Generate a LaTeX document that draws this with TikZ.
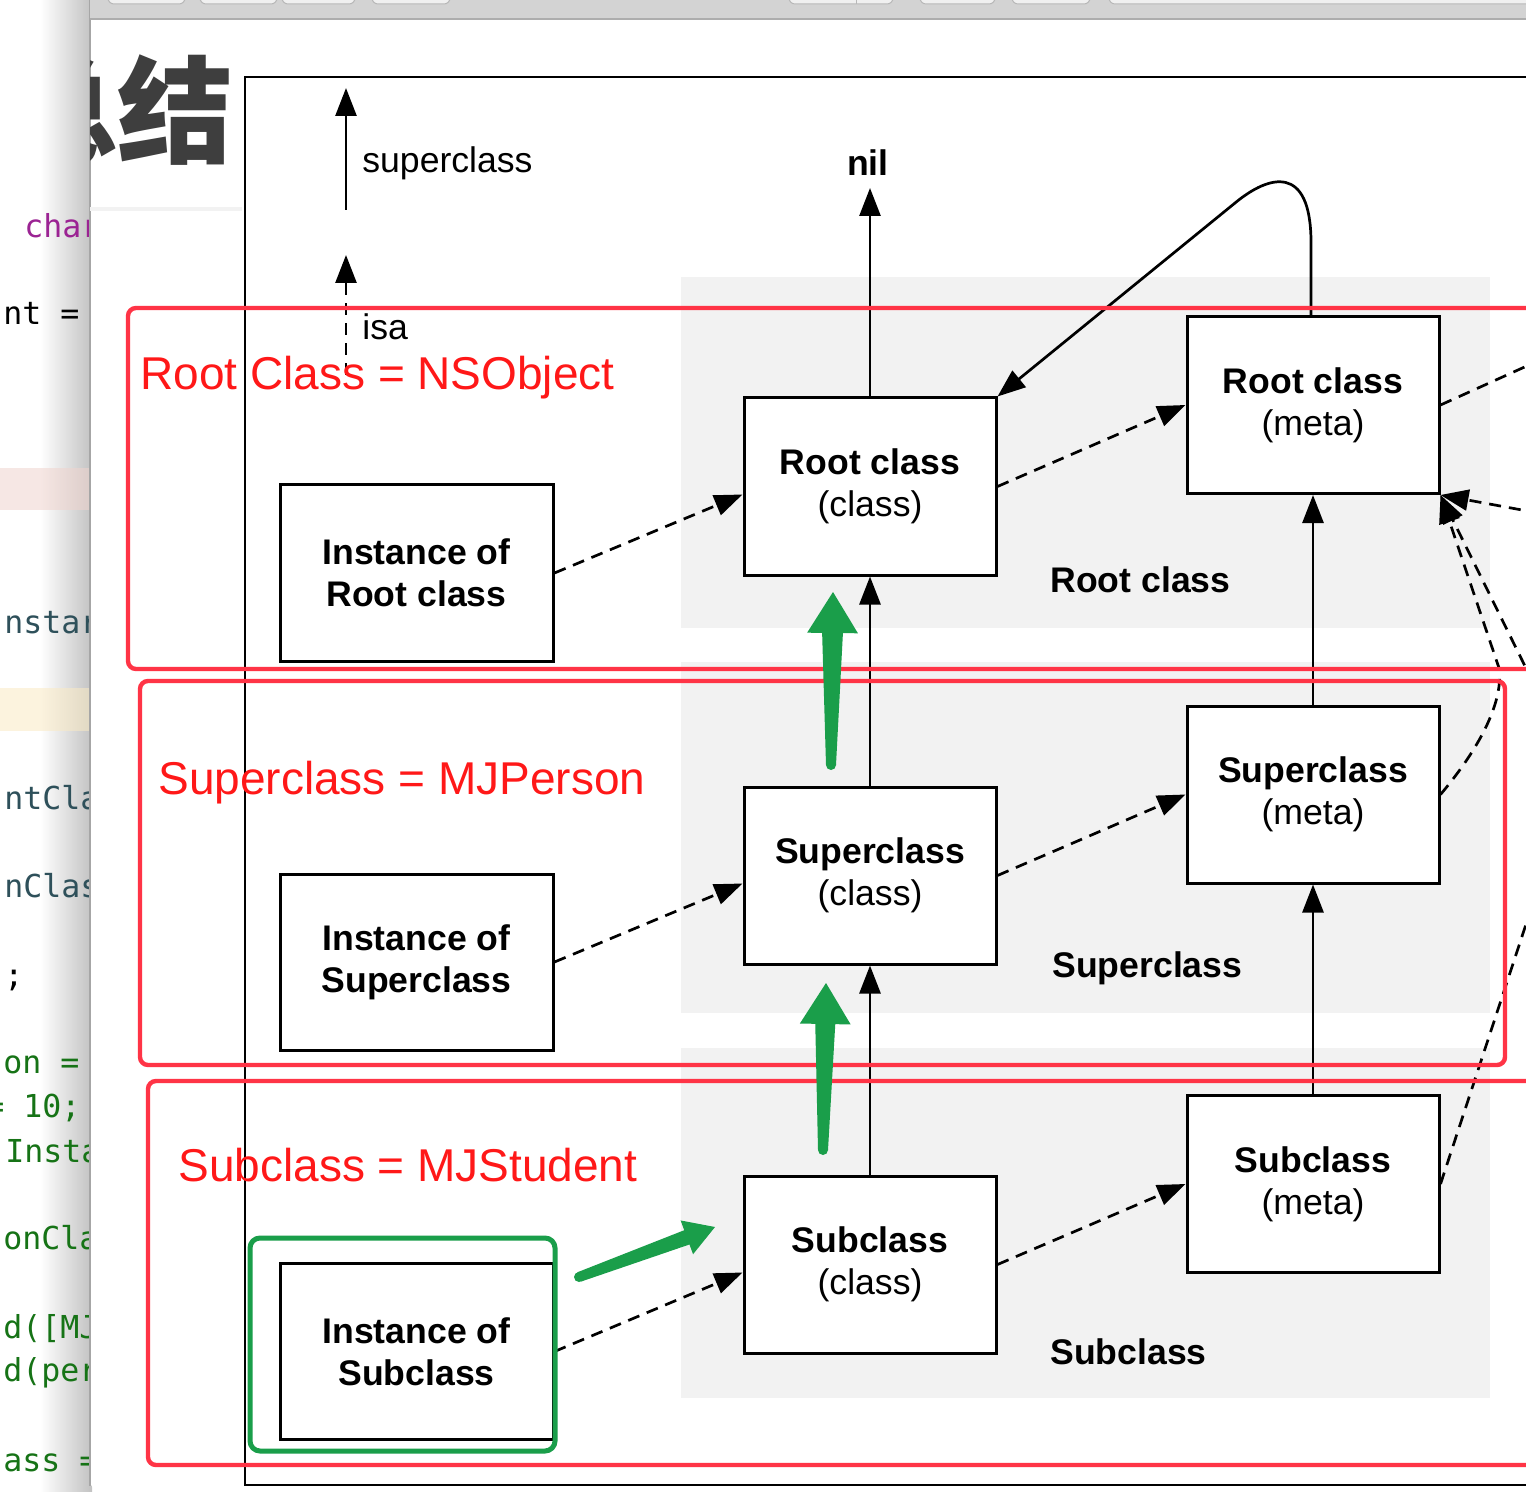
\documentclass[tikz,border=0pt]{standalone}
\usepackage{fontspec}
\setmainfont{Liberation Sans}
\setsansfont{Liberation Sans}
\setmonofont{DejaVu Sans Mono}
\newfontfamily\cjkfont{Noto Sans CJK SC}
\usetikzlibrary{arrows.meta,calc}
\definecolor{redbox}{RGB}{255,52,70}
\definecolor{redtxt}{RGB}{255,24,24}
\definecolor{greenc}{RGB}{26,158,74}
\definecolor{bandgray}{RGB}{242,242,242}
\definecolor{codepurple}{RGB}{155,35,147}
\definecolor{codeteal}{RGB}{46,80,90}
\definecolor{codegreen}{RGB}{22,115,22}
\definecolor{titlegray}{RGB}{62,62,62}
\definecolor{pinkband}{RGB}{240,212,206}
\definecolor{creamband}{RGB}{250,234,196}
\definecolor{barcolor}{RGB}{211,211,211}
\newcommand\greenarrow[5]{%
  \coordinate (gh) at ($(#2)!#3!(#1)$);
  \fill[greenc, line join=round]
    ($(#1)!2.5pt!90:(#2)$) --
    ($(gh)!#5!-90:(#1)$) --
    ($(gh)!#4!-90:(#1)$) --
    (#2) --
    ($(gh)!#4!90:(#1)$) --
    ($(gh)!#5!90:(#1)$) --
    ($(#1)!2.5pt!-90:(#2)$) -- cycle;
  \fill[greenc] (#1) circle[radius=2.5pt];
}
\begin{document}
\begin{tikzpicture}[x=0.5pt,y=-0.5pt,
  box/.style={draw, line width=1.5pt, fill=white, minimum width=126pt, minimum height=88.5pt, inner sep=0pt, align=center, font=\fontsize{17.8}{21}\selectfont},
  ibox/.style={box, minimum width=136.5pt, minimum height=88pt},
  bandlabel/.style={anchor=base west, inner sep=0pt, font=\fontsize{17.8}{21}\selectfont\bfseries},
  legendlabel/.style={anchor=base west, inner sep=0pt, font=\fontsize{17.8}{21}\selectfont},
  suparrow/.style={line width=1.35pt, -{Triangle[length=14pt,width=10.5pt]}},
  isaarrow/.style={suparrow, dash pattern=on 6pt off 4pt},
  isaline/.style={line width=1.35pt, dash pattern=on 6pt off 4pt},
  redframe/.style={draw=redbox, line width=2.2pt, rounded corners=4pt},
  redlabel/.style={anchor=base west, inner sep=0pt, text=redtxt, font=\fontsize{23}{26}\selectfont},
  code/.style={anchor=base west, inner sep=0pt, font=\ttfamily\fontsize{15.8}{18}\selectfont},
  band/.style={fill=bandgray},
  tab/.style={fill=black!6, draw=black!28, line width=0.5pt, rounded corners=3pt},
]
\useasboundingbox (0,0) rectangle (1526,1492);
\clip (0,0) rectangle (1526,1492);
% ---- code editor strip
\fill[white] (0,0) rectangle (40,1492);
\shade[left color=white, right color=black!24] (40,0) rectangle (92,1492);
\fill[pinkband, opacity=0.55] (0,468) rectangle (92,510);
\fill[creamband, opacity=0.55] (0,688) rectangle (92,731);
\begin{scope}
  \clip (0,0) rectangle (90,1492);
  \node[code, text=codepurple] (c1) at (24,238) {char};
  \node[code, text=black] (c2) at (3,325) {nt =};
  \node[code, text=codeteal] (c3) at (4,633) {nstar};
  \node[code, text=codeteal] (c4) at (4,809) {ntCla};
  \node[code, text=codeteal] (c5) at (4,897) {nClas};
  \node[code, text=black] (c6) at (4,986) {;};
  \node[code, text=codegreen] (c7) at (3,1073) {on =};
  \node[code, text=codegreen] (c8) at (-15,1117) {= 10;};
  \node[code, text=codegreen] (c9) at (5,1162) {Insta};
  \node[code, text=codegreen] (c10) at (3,1249) {onCla};
  \node[code, text=codegreen] (c11) at (3,1338) {d([MJ};
  \node[code, text=codegreen] (c12) at (3,1381) {d(per};
  \node[code, text=codegreen] (c13) at (3,1471) {ass =};
\end{scope}
% ---- window
\fill[white, rounded corners=6pt] (90,-20) rectangle (1560,1492);
\draw[black!35, line width=0.6pt] (90,-20) -- (90,1486);
\fill[barcolor] (90,0) rectangle (1526,18.5);
\draw[black!32, line width=1pt] (90,19) -- (1526,19);
\path[tab] (108,-10) rectangle (185,4);
\path[tab] (200,-10) rectangle (277,4);
\path[tab] (282,-10) rectangle (355,4);
\path[tab] (372,-10) rectangle (450,4);
\path[tab] (789,-10) rectangle (893,4);
\draw[black!28, line width=0.5pt] (856,-10) -- (856,4);
\path[tab] (920,-10) rectangle (995,4);
\path[tab] (1012,-10) rectangle (1090,4);
\path[tab] (1109,-10) rectangle (1560,4);
\begin{scope}
  \clip (90,20) rectangle (1526,1492);
  \node[inner sep=0pt, text=titlegray, font=\cjkfont\bfseries\fontsize{58}{58}\selectfont] (title) at (118,110) {总结};
\end{scope}
\draw[black!5, line width=2pt] (90,209) -- (242,209);
% ---- diagram
\draw[line width=1pt] (245,77) rectangle (1560,1485);
\path[band] (681,277) rectangle (1490,628);
\path[band] (681,662) rectangle (1490,1013);
\path[band] (681,1048) rectangle (1490,1398);
% legend
\coordinate (legS0) at (346,210);
\coordinate (legS1) at (346,88);
\coordinate (legI0) at (346,375);
\coordinate (legI1) at (346,255);
\draw[suparrow] (legS0) -- (legS1);
\draw[isaarrow] (legI0) -- (legI1);
\node[legendlabel] (lsup) at (362,173) {superclass};
\node[legendlabel] (lisa) at (362,340) {isa};
% boxes
\node[ibox] (irc) at (416.5,573) {\textbf{Instance of}\\\textbf{Root class}};
\node[box] (rc) at (870,486.5) {\textbf{Root class}\\(class)};
\node[box] (rm) at (1313,405) {\textbf{Root class}\\(meta)};
\node[ibox] (isc) at (416.5,962) {\textbf{Instance of}\\\textbf{Superclass}};
\node[box] (sc) at (870,875.5) {\textbf{Superclass}\\(class)};
\node[box] (sm) at (1313,794.5) {\textbf{Superclass}\\(meta)};
\node[ibox] (isb) at (416.5,1351.5) {\textbf{Instance of}\\\textbf{Subclass}};
\node[box] (sbc) at (870,1264.5) {\textbf{Subclass}\\(class)};
\node[box] (sbm) at (1313,1184) {\textbf{Subclass}\\(meta)};
% band labels
\node[bandlabel] (lroot) at (1050,592) {Root class};
\node[bandlabel] (lsuper) at (1052,977) {Superclass};
\node[bandlabel] (lsub) at (1050,1364) {Subclass};
% nil
\coordinate (nilpt) at (870,188);
\node[anchor=base, inner sep=0pt, font=\fontsize{17.8}{21}\selectfont\bfseries] (nil) at (868,176) {nil};
\draw[suparrow] (rc.north) -- (nilpt);
% superclass arrows
\draw[suparrow] (sc.north) -- (rc.south);
\draw[suparrow] (sbc.north) -- (sc.south);
\draw[suparrow] (sm.north) -- (rm.south);
\draw[suparrow] (sbm.north) -- (sm.south);
\draw[suparrow] ([xshift=-1pt]rm.north) -- (1311,240) .. controls (1310,165) and (1270,174) .. (1235,203) -- (rc.north east);
% isa arrows
\draw[isaarrow] (irc.east) -- ([yshift=-4pt]rc.west);
\draw[isaarrow] (rc.east) -- (rm.west);
\draw[isaarrow] (isc.east) -- ([yshift=-4pt]sc.west);
\draw[isaarrow] (sc.east) -- (sm.west);
\draw[isaarrow] (isb.east) -- ([yshift=-4pt]sbc.west);
\draw[isaarrow] (sbc.east) -- (sbm.west);
\coordinate (offA) at (1560,351);
\coordinate (offB) at (1560,517);
\coordinate (offC) at (1560,737);
\coordinate (offD) at (1560,821);
\draw[isaline] (rm.east) -- (offA);
\draw[isaarrow] (offB) -- (rm.south east);
\draw[isaarrow] (offC) -- (rm.south east);
\draw[isaarrow] (sm.east) .. controls (1488,738) and (1503,695) .. (1499,668) -- (rm.south east);
\draw[isaline] (sbm.east) -- (offD);
% ---- red annotations
\draw[redframe] (128,308) rectangle (1560,669);
\draw[redframe] (140,681) rectangle (1505,1065);
\draw[redframe] (148,1081) rectangle (1560,1465);
\node[redlabel] (r1) at (140,390) {Root Class = NSObject};
\node[redlabel] (r2) at (158,794) {Superclass = MJPerson};
\node[redlabel] (r3) at (178,1181) {Subclass = MJStudent};
% ---- green annotations
\draw[greenc, line width=2.5pt, rounded corners=5pt] (250,1238) rectangle (555,1451);
\coordinate (g1t) at (831,765);
\coordinate (g1h) at (833,592);
\coordinate (g2t) at (823,1150);
\coordinate (g2h) at (826,983);
\coordinate (g3t) at (579,1277);
\coordinate (g3h) at (715,1227);
\greenarrow{g1t}{g1h}{20.5pt}{12.7pt}{5.2pt}
\greenarrow{g2t}{g2h}{20.5pt}{12.7pt}{5pt}
\greenarrow{g3t}{g3h}{15pt}{9pt}{3.8pt}
\end{tikzpicture}
\end{document}
